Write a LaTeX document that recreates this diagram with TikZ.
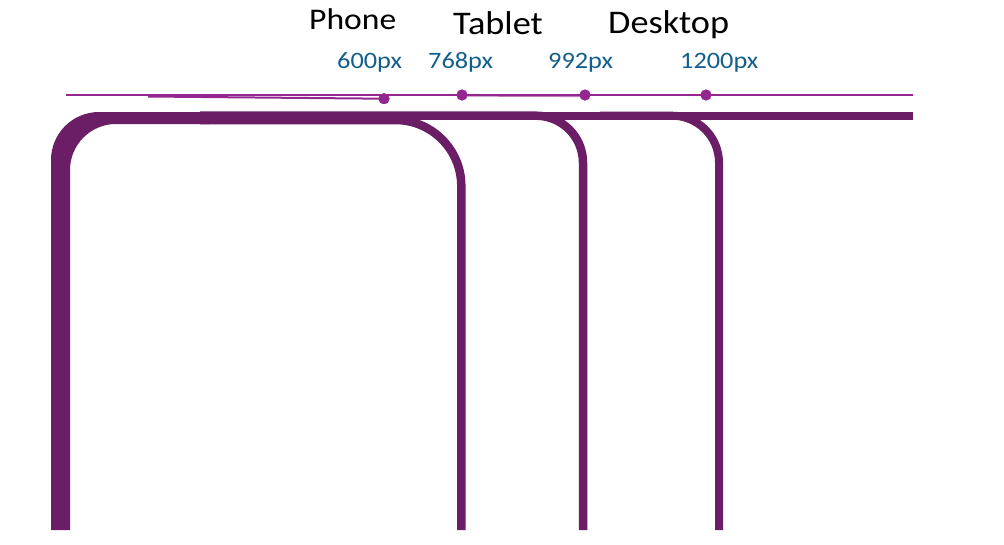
\documentclass[tikz,border=0pt]{standalone}
\usepackage{fontspec}
\setmainfont{Carlito}
\usepackage{graphicx}
\definecolor{deeppurple}{RGB}{107,29,102}
\definecolor{linepurple}{RGB}{147,39,143}
\definecolor{labelblue}{RGB}{18,95,140}
\tikzset{
  band/.style={draw=deeppurple, line width=8pt, line cap=butt},
  thinrule/.style={draw=linepurple, line width=1.6pt},
  bpdot/.style={circle, fill=linepurple, inner sep=0pt, minimum size=11pt},
  devlabel/.style={inner sep=0pt, anchor=base west, text=black},
  pxlabel/.style={inner sep=0pt, anchor=base west, text=labelblue, font=\fontsize{23.5}{28}\selectfont}
}
\begin{document}
\begin{tikzpicture}[x=1pt,y=-1pt]
\useasboundingbox (0,0) rectangle (1004,544);
\fill[white] (0,0) rectangle (1004,544);

% device titles
\node[devlabel, font=\fontsize{30}{36}\selectfont] (phone) at (309,29.3) {\scalebox{1.12}[1]{Phone}};
\node[devlabel, font=\fontsize{33}{40}\selectfont] (tablet) at (453,34.3) {\scalebox{1.1}[1]{Tablet}};
\node[devlabel, font=\fontsize{33}{40}\selectfont] (desktop) at (608,33.3) {\scalebox{1.1}[1]{Desktop}};

% breakpoint labels
\node[pxlabel] (l600) at (337,68.3) {\scalebox{1.12}[1]{600px}};
\node[pxlabel] (l768) at (428,68.3) {\scalebox{1.12}[1]{768px}};
\node[pxlabel] (l992) at (548,68.3) {\scalebox{1.12}[1]{992px}};
\node[pxlabel] (l1200) at (680,68.3) {\scalebox{1.12}[1]{1200px}};

% breakpoint axis
\coordinate (axisL) at (66,95);
\coordinate (axisR) at (913,95);
\coordinate (phoneStart) at (148,96.5);
\node[bpdot] (d600) at (384,98.7) {};
\node[bpdot] (d768) at (462,95) {};
\node[bpdot] (d992) at (585,95) {};
\node[bpdot] (d1200) at (706,95) {};
\draw[thinrule] (axisL) -- (axisR);
\draw[thinrule, line width=2pt] (phoneStart) -- (d600.center);
\draw[thinrule, line width=1.2pt, opacity=0.6] ([yshift=-1pt]d768.center) -- ([yshift=-1.5pt]d992.center);
\node[bpdot] at (d600) {};
\node[bpdot] at (d768) {};
\node[bpdot] at (d992) {};
\node[bpdot] at (d1200) {};

% left shared corner (filled)
\fill[deeppurple] (51,530) -- (51,160) arc[start angle=180,end angle=270,radius=48]
  -- (210,112) -- (210,124) -- (116,124) arc[start angle=270,end angle=180,radius=46]
  -- (70,530) -- cycle;

% top bar
\coordinate (aStart) at (200,115.7);
\coordinate (aEnd) at (913,115.7);
\draw[band, line width=7.6pt] (aStart) -- (aEnd);

% tablet
\coordinate (tMid) at (200,115.7);
\coordinate (tRight) at (583,115.7);
\coordinate (tEnd) at (583,530);
\draw[band, line width=8.5pt, rounded corners=47pt] (tMid) -- (tRight) -- (tEnd);

% desktop
\coordinate (dMid) at (600,115.7);
\coordinate (dRight) at (719,115.7);
\coordinate (dEnd) at (719,530);
\draw[band, rounded corners=47pt] (dMid) -- (dRight) -- (dEnd);

% phone
\coordinate (pMid) at (200,120);
\coordinate (pRight) at (461.3,120);
\coordinate (pEnd) at (461.3,530);
\draw[band, line width=8.5pt, rounded corners=66pt] (pMid) -- (pRight) -- (pEnd);
\end{tikzpicture}
\end{document}
